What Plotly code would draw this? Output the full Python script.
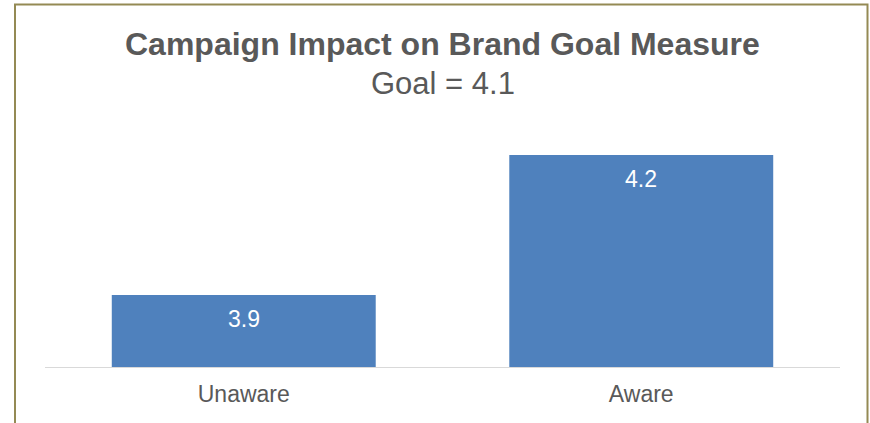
import plotly.graph_objects as go

# chart data
categories = ['Unaware', 'Aware']
values = [3.9, 4.2]
value_labels = ['3.9', '4.2']
title_text = 'Campaign Impact on Brand Goal Measure'
subtitle_text = 'Goal = 4.1'

BAR_COLOR = '#4F81BD'
TEXT_GREY = '#595959'
FONT = 'Liberation Sans, Arial, sans-serif'

W, H = 870, 423
M_L, M_R, M_T, M_B = 45, 30, 134, 56
plot_w = W - M_L - M_R
plot_h = H - M_T - M_B
base_px = H - M_B  # pixel row of the category axis


def py(px):
    """pixel row -> paper y"""
    return (base_px - px) / plot_h


def px_x(px):
    """pixel column -> paper x"""
    return (px - M_L) / plot_w


fig = go.Figure()

fig.add_trace(go.Bar(
    x=categories,
    y=values,
    marker=dict(color=BAR_COLOR, line=dict(width=0)),
    hoverinfo='skip',
))

# value labels sit a little below the top of each bar
for cat, val, lab in zip(categories, values, value_labels):
    fig.add_annotation(
        x=cat, y=val, xref='x', yref='y',
        text=lab, showarrow=False,
        yanchor='top', yshift=-9,
        font=dict(family=FONT, size=23, color='white'),
    )

# title + subtitle
fig.add_annotation(
    x=0.5, y=py(43.5), xref='paper', yref='paper',
    xanchor='center', yanchor='middle',
    text='<b>' + title_text + '</b>', showarrow=False,
    font=dict(family=FONT, size=32, color=TEXT_GREY),
)
fig.add_annotation(
    x=0.5, y=py(83), xref='paper', yref='paper',
    xanchor='center', yanchor='middle',
    text=subtitle_text, showarrow=False,
    font=dict(family=FONT, size=31, color=TEXT_GREY),
)

# olive frame around the chart (bottom edge runs off the page)
fig.add_shape(
    type='rect', xref='paper', yref='paper',
    x0=px_x(15), x1=px_x(867.5),
    y0=py(H + 20), y1=py(4.5),
    line=dict(color='#948A54', width=2),
    fillcolor='rgba(0,0,0,0)',
)

fig.update_layout(
    width=W,
    height=H,
    margin=dict(l=M_L, r=M_R, t=M_T, b=M_B),
    paper_bgcolor='white',
    plot_bgcolor='white',
    showlegend=False,
    bargap=0.336,
    font=dict(family=FONT, color=TEXT_GREY),
    xaxis=dict(
        showline=True, linecolor='#D9D9D9', linewidth=1,
        showgrid=False, ticks='', ticklabelstandoff=6,
        tickfont=dict(family=FONT, size=23, color=TEXT_GREY),
    ),
    yaxis=dict(
        range=[3.7457, 4.245], visible=False, showgrid=False,
    ),
)

fig.write_html(
    'out.html',
    config={'displayModeBar': False},
    post_script="document.body.style.margin='0';",
)
